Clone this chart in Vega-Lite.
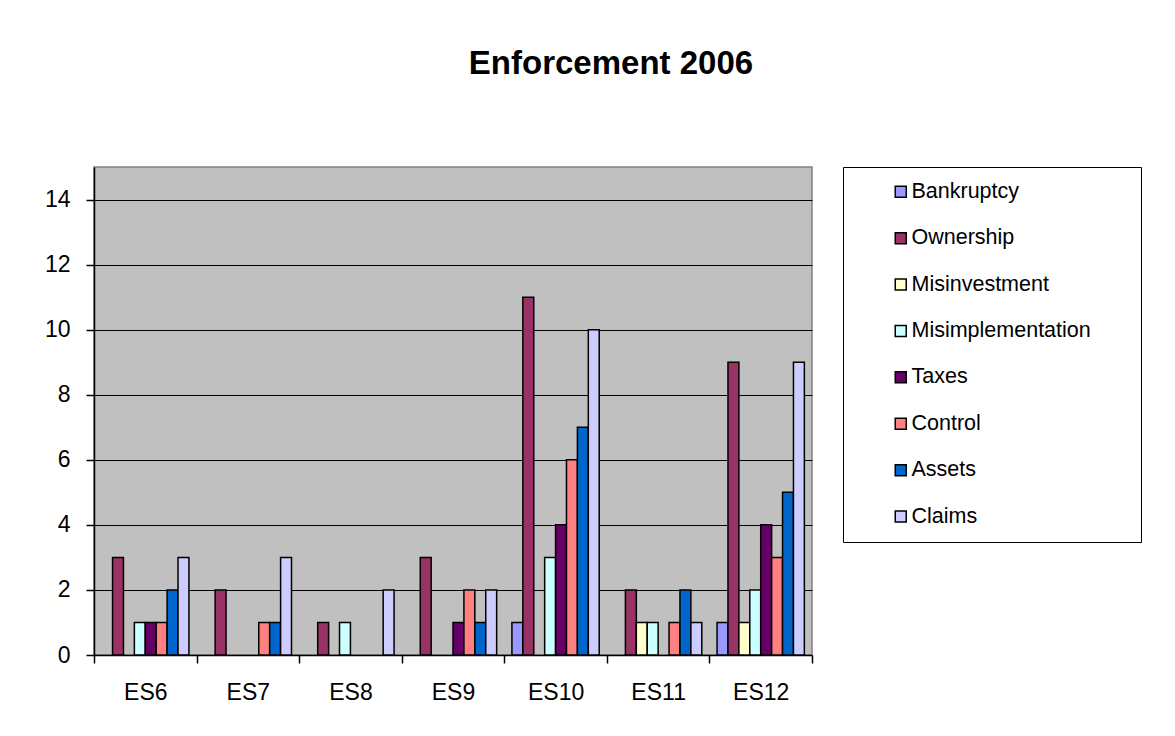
{
  "$schema": "https://vega.github.io/schema/vega-lite/v6.json",
  "width": 718,
  "height": 488,
  "padding": {"left": 44, "top": 47, "right": 5, "bottom": 5},
  "background": "white",
  "title": {
    "text": "Enforcement 2006",
    "font": "Liberation Sans",
    "fontSize": 33,
    "fontWeight": "bold",
    "color": "black",
    "anchor": "middle",
    "frame": "bounds",
    "dx": 18,
    "offset": 86
  },
  "data": {
    "values": [
      {"group": "ES6", "series": "Ownership", "value": 3},
      {"group": "ES6", "series": "Misimplementation", "value": 1},
      {"group": "ES6", "series": "Taxes", "value": 1},
      {"group": "ES6", "series": "Control", "value": 1},
      {"group": "ES6", "series": "Assets", "value": 2},
      {"group": "ES6", "series": "Claims", "value": 3},
      {"group": "ES7", "series": "Ownership", "value": 2},
      {"group": "ES7", "series": "Control", "value": 1},
      {"group": "ES7", "series": "Assets", "value": 1},
      {"group": "ES7", "series": "Claims", "value": 3},
      {"group": "ES8", "series": "Ownership", "value": 1},
      {"group": "ES8", "series": "Misimplementation", "value": 1},
      {"group": "ES8", "series": "Claims", "value": 2},
      {"group": "ES9", "series": "Ownership", "value": 3},
      {"group": "ES9", "series": "Taxes", "value": 1},
      {"group": "ES9", "series": "Control", "value": 2},
      {"group": "ES9", "series": "Assets", "value": 1},
      {"group": "ES9", "series": "Claims", "value": 2},
      {"group": "ES10", "series": "Bankruptcy", "value": 1},
      {"group": "ES10", "series": "Ownership", "value": 11},
      {"group": "ES10", "series": "Misimplementation", "value": 3},
      {"group": "ES10", "series": "Taxes", "value": 4},
      {"group": "ES10", "series": "Control", "value": 6},
      {"group": "ES10", "series": "Assets", "value": 7},
      {"group": "ES10", "series": "Claims", "value": 10},
      {"group": "ES11", "series": "Ownership", "value": 2},
      {"group": "ES11", "series": "Misinvestment", "value": 1},
      {"group": "ES11", "series": "Misimplementation", "value": 1},
      {"group": "ES11", "series": "Control", "value": 1},
      {"group": "ES11", "series": "Assets", "value": 2},
      {"group": "ES11", "series": "Claims", "value": 1},
      {"group": "ES12", "series": "Bankruptcy", "value": 1},
      {"group": "ES12", "series": "Ownership", "value": 9},
      {"group": "ES12", "series": "Misinvestment", "value": 1},
      {"group": "ES12", "series": "Misimplementation", "value": 2},
      {"group": "ES12", "series": "Taxes", "value": 4},
      {"group": "ES12", "series": "Control", "value": 3},
      {"group": "ES12", "series": "Assets", "value": 5},
      {"group": "ES12", "series": "Claims", "value": 9}
    ]
  },
  "mark": {"type": "bar", "stroke": "black", "strokeWidth": 1.5},
  "encoding": {
    "x": {
      "field": "group",
      "type": "nominal",
      "sort": ["ES6", "ES7", "ES8", "ES9", "ES10", "ES11", "ES12"],
      "scale": {"paddingInner": 0, "paddingOuter": 0},
      "axis": {
        "title": null,
        "labelAngle": 0,
        "labelFont": "Liberation Sans",
        "labelFontSize": 23,
        "labelColor": "black",
        "labelPadding": 18,
        "tickBand": "extent",
        "tickColor": "black",
        "tickSize": 8,
        "tickWidth": 1.5,
        "domainColor": "black",
        "domainWidth": 1.5
      }
    },
    "xOffset": {
      "field": "series",
      "type": "nominal",
      "sort": ["Bankruptcy", "Ownership", "Misinvestment", "Misimplementation", "Taxes", "Control", "Assets", "Claims"],
      "scale": {"paddingInner": 0, "paddingOuter": 0.7}
    },
    "y": {
      "field": "value",
      "type": "quantitative",
      "scale": {"domain": [0, 15], "nice": false},
      "axis": {
        "title": null,
        "values": [0, 2, 4, 6, 8, 10, 12, 14],
        "labelFont": "Liberation Sans",
        "labelFontSize": 23,
        "labelColor": "black",
        "labelPadding": 16,
        "tickColor": "black",
        "tickSize": 8,
        "tickWidth": 1.5,
        "domainColor": "black",
        "domainWidth": 1.5,
        "grid": true,
        "gridColor": "black",
        "gridWidth": 1
      }
    },
    "fill": {
      "field": "series",
      "type": "nominal",
      "sort": ["Bankruptcy", "Ownership", "Misinvestment", "Misimplementation", "Taxes", "Control", "Assets", "Claims"],
      "scale": {
        "domain": ["Bankruptcy", "Ownership", "Misinvestment", "Misimplementation", "Taxes", "Control", "Assets", "Claims"],
        "range": ["#9999FF", "#993366", "#FFFFCC", "#CCFFFF", "#660066", "#FF8080", "#0066CC", "#CCCCFF"]
      },
      "legend": {
        "title": null,
        "orient": "right",
        "offset": 31,
        "padding": 14,
        "strokeColor": "black",
        "fillColor": "white",
        "symbolType": "square",
        "symbolSize": 121,
        "symbolStrokeColor": "black",
        "symbolStrokeWidth": 1.5,
        "symbolOffset": 33,
        "labelOffset": 0,
        "labelFont": "Liberation Sans",
        "labelFontSize": 21.5,
        "labelColor": "black",
        "labelLimit": 400,
        "rowPadding": 23.4,
        "labelExpr": "datum.label + '\u00a0\u00a0\u00a0\u00a0\u00a0\u00a0\u200b'"
      }
    }
  },
  "config": {
    "view": {"fill": "#C0C0C0", "stroke": "#808080", "strokeWidth": 1.5}
  }
}
